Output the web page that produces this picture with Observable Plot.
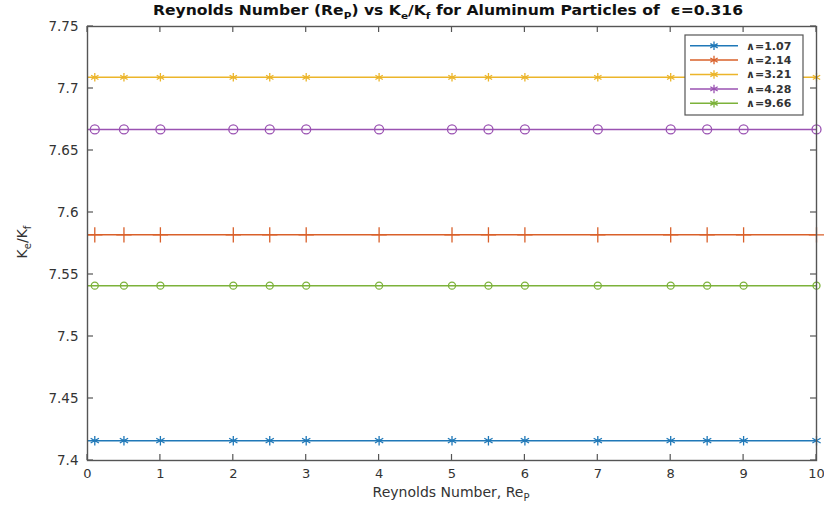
<!DOCTYPE html>
<html>
<head>
<meta charset="utf-8">
<script src="https://cdn.jsdelivr.net/npm/d3@7"></script>
<script src="https://cdn.jsdelivr.net/npm/@observablehq/plot@0.6"></script>
<style>
  html, body { margin: 0; padding: 0; background: #fff; }
  #chart svg { display: block; }
</style>
</head>
<body>
<div id="chart"></div>
<script>
// ---- data ----
const reynolds = [0.1, 0.5, 1, 2, 2.5, 3, 4, 5, 5.5, 6, 7, 8, 8.5, 9, 10];
const lambdaLabels = ["∧=1.07", "∧=2.14", "∧=3.21", "∧=4.28", "∧=9.66"];
const keKf = [7.416, 7.582, 7.709, 7.667, 7.541];
const seriesColors = ["#1f78b8", "#d9602a", "#ecb52a", "#9a52b2", "#7cb23a"];
const seriesSymbols = ["asterisk", "plus", "asterisk", "circle", "circle"];
const seriesSizes = [4.5, 5, 4, 4.5, 3.5];
const xTicks = [0, 1, 2, 3, 4, 5, 6, 7, 8, 9, 10];
const yTicks = [7.4, 7.45, 7.5, 7.55, 7.6, 7.65, 7.7, 7.75];

const series = lambdaLabels.map((label, i) => ({
  label, value: keKf[i], color: seriesColors[i], symbol: seriesSymbols[i], r: seriesSizes[i]
}));

const axisColor = "#555";
const fmt = d => String(+d.toFixed(2));

const chart = Plot.plot({
  width: 824,
  height: 508,
  marginTop: 26,
  marginBottom: 48,
  marginLeft: 87,
  marginRight: 8,
  style: { fontFamily: "DejaVu Sans, sans-serif", fontSize: "13px", color: "#333", background: "#fff", overflow: "visible" },
  x: { domain: [0, 10] },
  y: { domain: [7.4, 7.75] },
  marks: [
    ...series.map(s => Plot.ruleY([s.value], { stroke: s.color, strokeWidth: 1.5 })),
    ...series.map(s => Plot.dot(reynolds, {
      x: d => d, y: () => s.value, symbol: s.symbol, stroke: s.color, r: s.r, strokeWidth: 1.3
    })),
    Plot.frame({ stroke: axisColor, strokeWidth: 1.4 }),
    Plot.axisX({ ticks: xTicks, tickSize: 0, tickPadding: 8, tickFormat: fmt, label: null, fontSize: 13 }),
    Plot.axisY({ ticks: yTicks, tickSize: 0, tickPadding: 9, tickFormat: fmt, label: null, fontSize: 13.5 })
  ]
});

document.getElementById("chart").appendChild(chart);

const svg = d3.select(chart);
const sx = chart.scale("x"), sy = chart.scale("y");
const [xL, xR] = sx.range, [yB, yT] = sy.range;

// ---- inward ticks on all four sides (MATLAB box style) ----
const tg = svg.append("g").attr("stroke", axisColor).attr("stroke-width", 1.2);
xTicks.forEach(v => {
  const px = sx.apply(v);
  tg.append("line").attr("x1", px).attr("x2", px).attr("y1", yB).attr("y2", yB - 6);
  tg.append("line").attr("x1", px).attr("x2", px).attr("y1", yT).attr("y2", yT + 6);
});
yTicks.forEach(v => {
  const py = sy.apply(v);
  tg.append("line").attr("x1", xL).attr("x2", xL + 6).attr("y1", py).attr("y2", py);
  tg.append("line").attr("x1", xR).attr("x2", xR - 6).attr("y1", py).attr("y2", py);
});

// ---- text with subscripts ----
function richText(g, parts, subSize, shift) {
  let down = false;
  parts.forEach(([t, sub]) => {
    const ts = g.append("tspan").text(t);
    if (sub && !down) { ts.attr("dy", shift).attr("font-size", subSize); down = true; }
    else if (sub) { ts.attr("font-size", subSize); }
    else if (!sub && down) { ts.attr("dy", -shift); down = false; }
  });
}

const title = svg.append("text")
  .attr("x", 448).attr("y", 15)
  .attr("text-anchor", "middle")
  .attr("font-family", "DejaVu Sans, sans-serif")
  .attr("font-weight", "bold").attr("font-size", 14).attr("fill", "#111")
  .attr("textLength", 590).attr("lengthAdjust", "spacingAndGlyphs");
richText(title, [["Reynolds Number (Re"], ["P", true], [") vs K"], ["e", true], ["/K"], ["f", true], [" for Aluminum Particles of  ϵ=0.316"]], 9.5, 4);

const xl = svg.append("text")
  .attr("x", 451).attr("y", 497)
  .attr("text-anchor", "middle")
  .attr("font-family", "DejaVu Sans, sans-serif")
  .attr("font-size", 14).attr("fill", "#333");
richText(xl, [["Reynolds Number, Re"], ["P", true]], 10, 4);

const yl = svg.append("text")
  .attr("transform", "translate(27,242) rotate(-90)")
  .attr("text-anchor", "middle")
  .attr("font-family", "DejaVu Sans, sans-serif")
  .attr("font-size", 14).attr("fill", "#333");
richText(yl, [["K"], ["e", true], ["/K"], ["f", true]], 10, 4);

// ---- legend ----
const lg = svg.append("g").attr("font-family", "DejaVu Sans, sans-serif");
lg.append("rect").attr("x", 685).attr("y", 35).attr("width", 118).attr("height", 80)
  .attr("fill", "#fff").attr("stroke", axisColor).attr("stroke-width", 1.2);
const star = d3.symbol(d3.symbolAsterisk, 50)();
series.forEach((s, i) => {
  const cy = 45.7 + i * 14.4;
  lg.append("line").attr("x1", 690).attr("x2", 738).attr("y1", cy).attr("y2", cy)
    .attr("stroke", s.color).attr("stroke-width", 1.5);
  lg.append("path").attr("d", star).attr("transform", `translate(714,${cy})`)
    .attr("fill", "none").attr("stroke", s.color).attr("stroke-width", 1.3);
  lg.append("text").attr("x", 746).attr("y", cy).attr("dy", "0.35em")
    .attr("text-anchor", "start")
    .attr("font-size", 11).attr("font-weight", "bold").attr("fill", "#333").text(s.label);
});
</script>
</body>
</html>
